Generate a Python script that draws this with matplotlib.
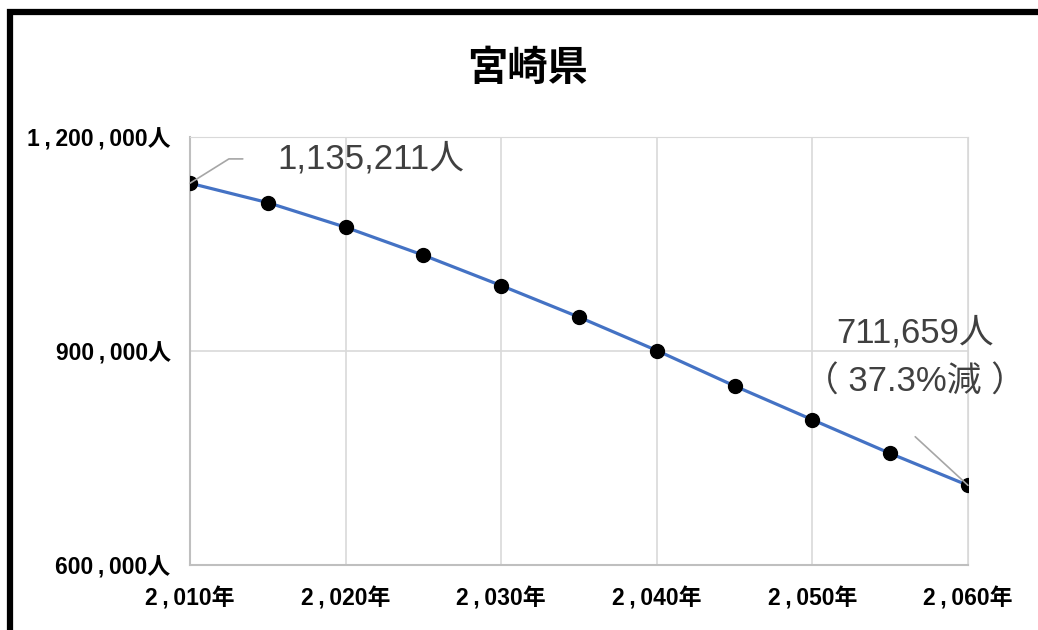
import matplotlib.pyplot as plt
from matplotlib.patches import Rectangle
from matplotlib.ticker import FuncFormatter

plt.rcParams['font.family'] = ['Liberation Sans', 'Noto Sans CJK JP', 'DejaVu Sans']

# population of Miyazaki prefecture, every 5 years
years = [2010, 2015, 2020, 2025, 2030, 2035, 2040, 2045, 2050, 2055, 2060]
population = [1135211, 1108000, 1073500, 1034300, 991700, 947500,
              900700, 851000, 803600, 756400, 711659]
x_ticks = [2010, 2020, 2030, 2040, 2050, 2060]
y_ticks = [600000, 900000, 1200000]
title = '宮崎県'


def spaced(v):
    # the original axis font puts a little air round the commas
    return f'{int(v):,}'.replace(',', '\u2009,\u2009')


fig = plt.figure(figsize=(10.38, 6.3), dpi=100)
ax = fig.add_axes([190/1038, 1-565/630, 778/1038, 428/630])

ax.plot(years, population, color='#4472C4', lw=2.3, marker='o',
        markersize=10, markerfacecolor='black', markeredgecolor='black', zorder=3)

ax.set_xlim(2010, 2060)
ax.set_ylim(600000, 1200000)
ax.set_xticks(x_ticks)
ax.set_yticks(y_ticks)
ax.xaxis.set_major_formatter(FuncFormatter(lambda v, p: spaced(v) + '年'))
ax.yaxis.set_major_formatter(FuncFormatter(lambda v, p: spaced(v) + '人'))
ax.tick_params(length=0, labelsize=16.5)
ax.tick_params(axis='y', pad=14)
ax.tick_params(axis='x', pad=16)
for lab in ax.get_xticklabels() + ax.get_yticklabels():
    lab.set_fontweight('bold')
ax.grid(True, color='#d9d9d9', lw=1.2)
for s in ['top', 'right']:
    ax.spines[s].set_color('#d9d9d9')
for s in ['left', 'bottom']:
    ax.spines[s].set_color('#bfbfbf')
    ax.spines[s].set_linewidth(1.5)

# data labels with leader lines
first, last = population[0], population[-1]
ax.annotate('', xy=(years[0], first), xytext=(38, 17.5), textcoords='offset points',
            arrowprops=dict(arrowstyle='-', color='#a6a6a6', lw=1.2,
                            connectionstyle='angle,angleA=0,angleB=32,rad=0',
                            shrinkA=0, shrinkB=0))
ax.annotate(f'{first:,}人', xy=(years[0], first), xytext=(63, 17.5),
            textcoords='offset points', ha='left', va='center',
            fontsize=25, color='#404040')

drop = (1 - last / first) * 100
ax.annotate('', xy=(years[-1], last), xytext=(-38, 35), textcoords='offset points',
            arrowprops=dict(arrowstyle='-', color='#a6a6a6', lw=1.2,
                            shrinkA=0, shrinkB=0))
ax.annotate(f'{last:,}人\n（ {drop:.1f}%減 ）', xy=(years[-1], last), xytext=(-38, 92),
            textcoords='offset points', ha='center', va='center',
            fontsize=25, color='#404040', linespacing=1.6)

fig.text(528/1038, 1-68/630, title, ha='center', va='center',
         fontsize=29, fontweight='bold', family=['Noto Sans CJK JP'])

# black outer frame of the chart
fig.patches.append(Rectangle((10/1038, -0.1), 1.2, 1-12/630+0.1,
                             transform=fig.transFigure, fill=False,
                             edgecolor='black', lw=4.5))

fig.savefig('out.png', dpi=100)
